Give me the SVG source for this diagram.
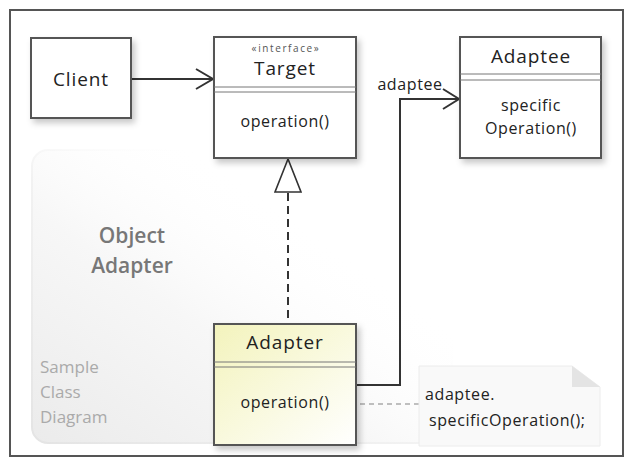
<svg xmlns="http://www.w3.org/2000/svg" width="633" height="463" viewBox="0 0 633 463">
<defs>
<filter id="sh" x="-20%" y="-20%" width="150%" height="150%">
<feDropShadow dx="3" dy="4" stdDeviation="3" flood-color="#000" flood-opacity="0.22"/>
</filter>
<linearGradient id="wm" x1="0" y1="1" x2="1" y2="0">
<stop offset="0" stop-color="#ebebeb"/>
<stop offset="0.4" stop-color="#f7f7f7"/>
<stop offset="0.7" stop-color="#ffffff" stop-opacity="0"/>
</linearGradient>
<linearGradient id="wmst" x1="0" y1="1" x2="1" y2="0">
<stop offset="0" stop-color="#e4e4e4"/>
<stop offset="0.45" stop-color="#f2f2f2"/>
<stop offset="0.7" stop-color="#ffffff" stop-opacity="0"/>
</linearGradient>
<linearGradient id="yel" x1="0" y1="0" x2="1" y2="1">
<stop offset="0" stop-color="#f3f3bc"/>
<stop offset="1" stop-color="#ffffff"/>
</linearGradient>
</defs>
<style>
.box{fill:#fff;stroke:#555;stroke-width:2}
.sep{stroke:#777;stroke-width:1;fill:none}
.t{font-family:"Open Sans","Noto Sans","DejaVu Sans",sans-serif;fill:#222;text-anchor:middle}
.name{font-size:19px;letter-spacing:0.9px}
.op{font-size:16px;letter-spacing:0.6px}
.st{font-size:10px;letter-spacing:1.6px;fill:#555}
.ln{stroke:#333;stroke-width:2;fill:none}
.wm1{font-family:"Open Sans","Noto Sans",sans-serif;font-size:21px;font-weight:600;fill:#777;text-anchor:middle}
.wm2{font-family:"Open Sans","Noto Sans",sans-serif;font-size:17px;fill:#aaa}
</style>
<rect x="10" y="10" width="613" height="446" fill="#fff" stroke="#555" stroke-width="2"/>
<g id="watermark">
<rect x="32" y="150" width="420" height="293" rx="16" fill="url(#wm)" stroke="url(#wmst)" stroke-width="2"/>
<text class="wm1" x="132" y="243">Object</text>
<text class="wm1" x="132" y="273">Adapter</text>
<text class="wm2" x="40" y="373">Sample</text>
<text class="wm2" x="40" y="398">Class</text>
<text class="wm2" x="40" y="423">Diagram</text>
</g>
<g id="connectors">
<line class="ln" x1="131" y1="79" x2="213" y2="79"/>
<polyline class="ln" stroke-width="1.6" points="196,69 213,79 196,89"/>
<polyline class="ln" points="356,385 400,385 400,99 459,99"/>
<polyline class="ln" stroke-width="1.6" points="443,89 459,99 443,109"/>
<text class="t op" x="410" y="90">adaptee</text>
<line class="ln" x1="288" y1="193" x2="288" y2="324" stroke-dasharray="8,5" stroke-width="2"/>
<polygon points="288,159 275,192 301,192" fill="#fff" stroke="#333" stroke-width="1.6"/>
<line x1="333" y1="404" x2="419" y2="404" stroke="#aaa" stroke-width="1.3" stroke-dasharray="5,4"/>
</g>
<g id="client">
<rect class="box" x="31" y="38" width="100" height="80" filter="url(#sh)"/>
<text class="t name" x="81" y="86">Client</text>
</g>
<g id="target">
<rect class="box" x="214" y="37" width="142" height="121" filter="url(#sh)"/>
<text class="t st" x="286" y="52">«interface»</text>
<text class="t name" x="285" y="75">Target</text>
<line class="sep" x1="214" y1="87" x2="356" y2="87"/>
<line class="sep" x1="214" y1="92" x2="356" y2="92"/>
<text class="t op" x="285" y="127">operation()</text>
</g>
<g id="adaptee">
<rect class="box" x="460" y="37" width="141" height="121" filter="url(#sh)"/>
<text class="t name" x="531" y="63">Adaptee</text>
<line class="sep" x1="460" y1="74" x2="601" y2="74"/>
<line class="sep" x1="460" y1="80" x2="601" y2="80"/>
<text class="t op" x="531" y="111">specific</text>
<text class="t op" x="531" y="134">Operation()</text>
</g>
<g id="adapter">
<rect class="box" x="214" y="324" width="142" height="121" style="fill:url(#yel)" filter="url(#sh)"/>
<text class="t name" x="285" y="349">Adapter</text>
<line class="sep" x1="214" y1="362" x2="356" y2="362"/>
<line class="sep" x1="214" y1="367" x2="356" y2="367"/>
<text class="t op" x="285" y="408">operation()</text>
</g>
<g id="note">
<path d="M419,366 H572 L600,387 V446 H419 Z" fill="#f9f9f9" stroke="#ececec" stroke-width="1"/>
<path d="M572,366 V387 H600 Z" fill="#e4e4e4"/>
<text class="t op" x="425" y="400" style="text-anchor:start">adaptee.</text>
<text class="t op" x="429" y="426" style="text-anchor:start">specificOperation();</text>
</g>
</svg>
